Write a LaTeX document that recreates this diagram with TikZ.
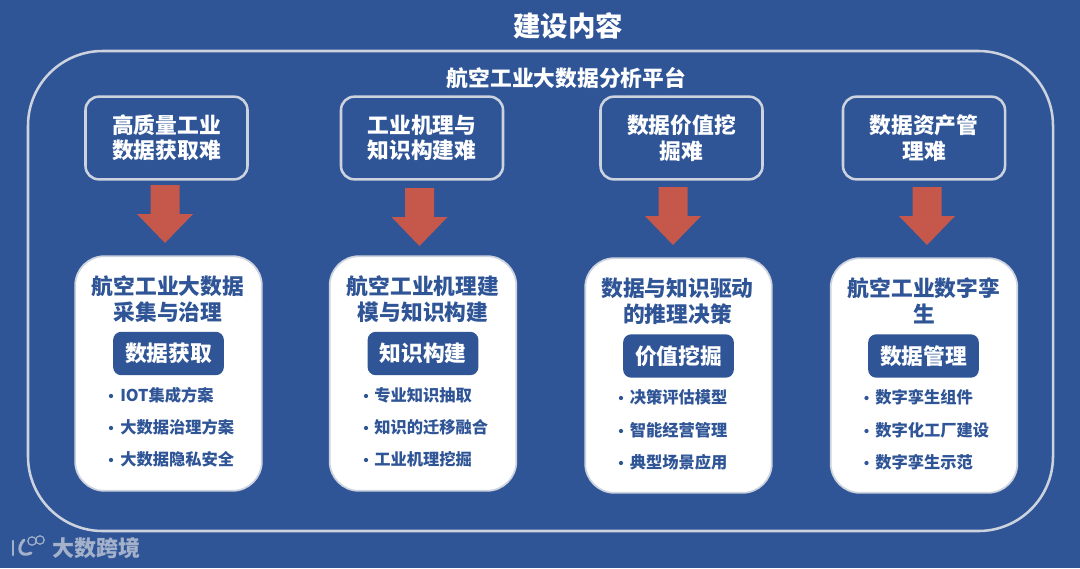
\documentclass[tikz,border=0pt]{standalone}
\usepackage{fontspec}
\newfontfamily\cjk{Noto Sans CJK SC}
\definecolor{bgblue}{HTML}{2F5597}
\definecolor{edge}{HTML}{CDD3DE}
\definecolor{redarrow}{HTML}{C5584A}
\definecolor{wmark}{HTML}{A3B1CA}
\tikzset{
  outerbox/.style={draw=edge,line width=1.9pt,rounded corners=56pt,minimum width=768.75pt,minimum height=360pt,inner sep=0pt},
  topbox/.style={draw=edge,line width=1.9pt,rounded corners=10pt,minimum width=121.5pt,minimum height=62pt,inner sep=0pt,align=center,text=white,font=\cjk\bfseries\fontsize{16.3}{19}\selectfont},
  card/.style={draw=edge,line width=1.3pt,fill=white,rounded corners=22pt,minimum width=140pt,minimum height=176pt,inner sep=0pt},
  cardtitle/.style={align=center,inner sep=0pt,text=bgblue,font=\cjk\bfseries\fontsize{16.3}{19.5}\selectfont},
  tag/.style={fill=bgblue,rounded corners=6pt,minimum width=83pt,minimum height=32.5pt,inner sep=0pt,text=white,font=\cjk\bfseries\fontsize{16.3}{19}\selectfont},
  item/.style={anchor=west,inner sep=0pt,text=bgblue,font=\cjk\bfseries\fontsize{12.2}{14}\selectfont},
  dot/.style={circle,fill=bgblue,minimum size=3.2pt,inner sep=0pt},
  heading/.style={inner sep=0pt,text=white,font=\cjk\bfseries\fontsize{20.6}{24}\selectfont},
  subheading/.style={inner sep=0pt,text=white,font=\cjk\bfseries\fontsize{16.3}{19}\selectfont},
  blockarrow/.pic={\fill[redarrow] (-14.5,0) -- (14.5,0) -- (14.5,29) -- (28,29) -- (0,58) -- (-28,29) -- (-14.5,29) -- cycle;}
}
\begin{document}
\begin{tikzpicture}[x=0.75pt,y=-0.75pt]
\fill[bgblue] (0,0) rectangle (1080,568);
\useasboundingbox (0,0) rectangle (1080,568);
\node[heading] (title) at (568,26) {建设内容};
\node[outerbox] (outer) at (540.5,291) {};
\node[subheading] (sub) at (566.5,78) {航空工业大数据分析平台};
% top boxes
\node[topbox] (t1) at (166.5,138) {高质量工业\\数据获取难};
\node[topbox] (t2) at (422,138) {工业机理与\\知识构建难};
\node[topbox] (t3) at (681.5,138) {数据价值挖\\掘难};
\node[topbox] (t4) at (924,138) {数据资产管\\理难};
% arrows
\pic at (165,185) {blockarrow};
\pic at (419.5,188) {blockarrow};
\pic at (673,187) {blockarrow};
\pic at (927,187) {blockarrow};
% cards
\node[card] (c1) at (168.5,373.5) {};
\node[card] (c2) at (423,373.5) {};
\node[card] (c3) at (678.5,375.5) {};
\node[card] (c4) at (924,375.5) {};
\node[cardtitle] (ct1) at (168,299) {航空工业大数据\\采集与治理};
\node[cardtitle] (ct2) at (423,299) {航空工业机理建\\模与知识构建};
\node[cardtitle] (ct3) at (677.5,301) {数据与知识驱动\\的推理决策};
\node[cardtitle] (ct4) at (924,301) {航空工业数字孪\\生};
\node[tag] (g1) at (168.5,353.5) {数据获取};
\node[tag] (g2) at (423,353.5) {知识构建};
\node[tag] (g3) at (678.5,356) {价值挖掘};
\node[tag] (g4) at (923.5,356) {数据管理};
% card 1
\node[dot] (d11) at (111,396) {}; \node[item] (i11) at (120,395) {IOT集成方案};
\node[dot] (d12) at (111,428) {}; \node[item] (i12) at (120,427) {大数据治理方案};
\node[dot] (d13) at (111,460) {}; \node[item] (i13) at (120,459) {大数据隐私安全};
% card 2
\node[dot] (d21) at (366,396) {}; \node[item] (i21) at (374,395) {专业知识抽取};
\node[dot] (d22) at (366,428) {}; \node[item] (i22) at (374,427) {知识的迁移融合};
\node[dot] (d23) at (366,460) {}; \node[item] (i23) at (374,459) {工业机理挖掘};
% card 3
\node[dot] (d31) at (621,398) {}; \node[item] (i31) at (629.5,397) {决策评估模型};
\node[dot] (d32) at (621,431) {}; \node[item] (i32) at (629.5,430) {智能经营管理};
\node[dot] (d33) at (621,463) {}; \node[item] (i33) at (629.5,462) {典型场景应用};
% card 4
\node[dot] (d41) at (866.5,398) {}; \node[item] (i41) at (875,397) {数字孪生组件};
\node[dot] (d42) at (866.5,431) {}; \node[item] (i42) at (875,430) {数字化工厂建设};
\node[dot] (d43) at (866.5,463) {}; \node[item] (i43) at (875,462) {数字孪生示范};
% watermark
\node[inner sep=0pt,text=wmark,font=\cjk\bfseries\fontsize{16.5}{19}\selectfont] (wm) at (96,548) {大数跨境};
\draw[wmark,line width=2pt,line cap=round] (13,541) -- (13,555);
\draw[wmark,line width=2.2pt,line cap=round] (24,540) .. controls (16,548) and (20,558) .. (31,553);
\draw[wmark,line width=0.9pt] (32,541) circle (4.2);
\draw[wmark,line width=0.9pt] (40,540) circle (4.2);
\end{tikzpicture}
\end{document}
